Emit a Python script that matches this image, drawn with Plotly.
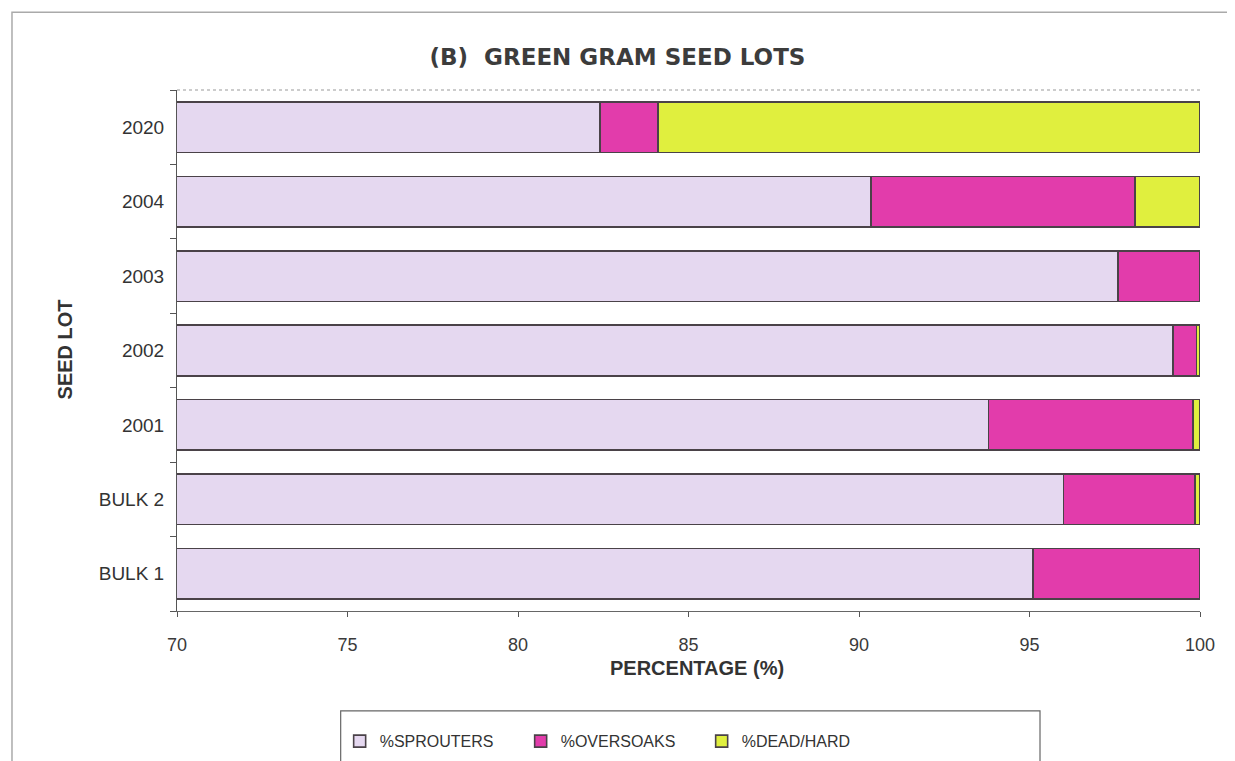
import plotly.graph_objects as go

seed_lots = ["BULK 1", "BULK 2", "2001", "2002", "2003", "2004", "2020"]
sprouters = [95.1, 96.0, 93.8, 99.2, 97.6, 90.35, 82.4]
oversoaks = [4.9, 3.85, 6.0, 0.7, 2.4, 7.75, 1.7]
dead_hard = [0.0, 0.15, 0.2, 0.1, 0.0, 1.9, 15.9]
x_ticks = [70, 75, 80, 85, 90, 95, 100]

series = [
    ("%SPROUTERS", sprouters, "#E5D8F0"),
    ("%OVERSOAKS", oversoaks, "#E23CAB"),
    ("%DEAD/HARD", dead_hard, "#E0EF3E"),
]

fig = go.Figure()
for name, vals, col in series:
    fig.add_trace(go.Bar(
        y=seed_lots, x=vals, name=name, orientation="h",
        marker=dict(color=col, line=dict(color="#4a4248", width=1.6)),
    ))

base_font = "Liberation Sans, Arial, sans-serif"

fig.update_layout(
    barmode="stack",
    bargap=0.32,
    width=1235, height=761,
    margin=dict(l=169, r=43, t=82, b=157),
    paper_bgcolor="white", plot_bgcolor="white",
    font=dict(family=base_font, color="#333333", size=14),
    title=dict(text="(B)  GREEN GRAM SEED LOTS", x=0.4935, xanchor="center", y=0.9356, yanchor="middle",
               font=dict(size=23, color="#3c3c3c", family="DejaVu Sans, sans-serif", weight="bold")),
    xaxis=dict(range=[70, 100], tickvals=x_ticks, ticks="outside", ticklen=5, tickcolor="#555",
               showgrid=False, zeroline=False, showline=True, linecolor="#666", linewidth=1,
               ticklabelstandoff=12,
               tickfont=dict(size=18, color="#3a3a3a", family=base_font)),
    yaxis=dict(categoryorder="array", categoryarray=seed_lots, ticks="outside", ticklen=6, tickcolor="#555",
               tickson="boundaries", showgrid=False, showline=True, linecolor="#555", linewidth=1,
               ticklabelstandoff=8,
               tickfont=dict(size=19, color="#333", family=base_font)),
    legend=dict(orientation="h", x=0.159, xanchor="left", y=-0.215, yanchor="top",
                borderwidth=0, bgcolor="rgba(0,0,0,0)",
                font=dict(size=16, color="#333", family=base_font), entrywidth=136, entrywidthmode="pixels",
                itemwidth=30, traceorder="normal"),
    showlegend=True,
    annotations=[
        dict(text="SEED LOT", xref="paper", yref="paper", x=-0.1095, y=0.502, textangle=-90,
             showarrow=False, xanchor="center", yanchor="middle",
             font=dict(size=20, color="#333", family=base_font, weight="bold")),
        dict(text="PERCENTAGE (%)", xref="paper", yref="paper", x=0.508, y=-0.11,
             showarrow=False, xanchor="center", yanchor="middle",
             font=dict(size=20, color="#333", family=base_font, weight="bold")),
    ],
)

# dotted plot-area top border
fig.add_shape(type="line", xref="paper", yref="paper", x0=0, y0=1, x1=1, y1=1,
              line=dict(color="#999", width=1, dash="dot"), layer="below")
# legend box
fig.add_shape(type="rect", xref="paper", yref="paper", x0=0.160, x1=0.8436, y0=-0.36, y1=-0.1916,
              line=dict(color="#666", width=1.2), layer="below")
# outer chart frame
fig.add_shape(type="rect", xref="paper", yref="paper", x0=-0.1613, x1=1.0274, y0=-0.36, y1=1.149,
              line=dict(color="#aaa", width=1.5))

fig.write_html("out.html")
